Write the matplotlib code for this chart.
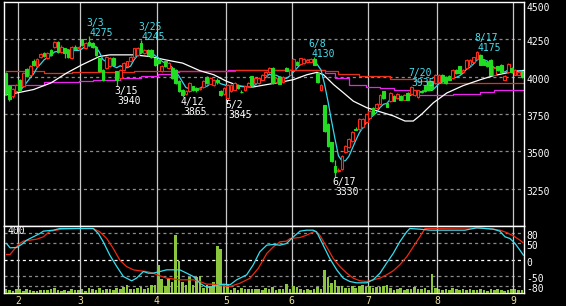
import matplotlib
matplotlib.use("Agg")
import matplotlib.pyplot as plt
import matplotlib.transforms as mtransforms
import numpy as np
import pandas as pd

plt.rcParams['font.family'] = ['DejaVu Sans Mono']
plt.rcParams['lines.scale_dashes'] = False

# ---------------- data ----------------
holidays = ['2022-02-11', '2022-02-23', '2022-03-21', '2022-04-29', '2022-05-03',
            '2022-05-04', '2022-05-05', '2022-07-18', '2022-08-11']
dates = pd.bdate_range('2022-01-26', '2022-09-05')
dates = dates[~dates.isin(pd.to_datetime(holidays))]

opens = [4024, 3936, 3869, 3903, 3980, 3936, 4051, 4013, 4108, 4073,
         4135, 4157, 4124, 4179, 4201, 4235, 4168, 4190, 4179, 4124,
         4201, 4190, 4250, 4190, 4235, 4224, 4201, 4124, 4046, 4057,
         4069, 4124, 4035, 3991, 4046, 4069, 4102, 4135, 4146, 4224,
         4157, 4179, 4179, 4124, 4113, 4035, 4102, 4057, 4057, 4046,
         3969, 3914, 3885, 3903, 3936, 3925, 3915, 3931, 3998, 3954,
         3947, 3980, 3903, 3881, 3858, 3903, 3914, 3947, 3900, 3909,
         3936, 4002, 3958, 3958, 3980, 4010, 4031, 4058, 3965, 3998,
         3962, 4058, 4013, 4046, 4100, 4086, 4090, 4095, 4100, 4117,
         4024, 3914, 3807, 3681, 3560, 3400, 3370, 3383, 3497, 3526,
         3571, 3650, 3648, 3660, 3697, 3725, 3792, 3790, 3814, 3902,
         3825, 3836, 3869, 3858, 3869, 3847, 3891, 3887, 3874, 3865,
         3905, 3940, 3969, 3969, 3958, 3962, 4013, 3998, 4007, 3991,
         4046, 4069, 4030, 4057, 4080, 4100, 4117, 4146, 4113, 4095,
         4113, 4013, 4069, 4080, 3980, 4029, 4057, 4013, 4013, 4035]
closes = [3892, 3850, 3918, 3947, 3914, 4024, 4002, 4073, 4080, 4117,
          4150, 4140, 4157, 4146, 4235, 4168, 4201, 4157, 4135, 4201,
          4184, 4201, 4212, 4224, 4212, 4201, 4146, 4035, 3980, 4135,
          4124, 4080, 3980, 4046, 4091, 4102, 4135, 4190, 4190, 4168,
          4179, 4146, 4135, 4080, 4091, 4069, 4069, 4091, 3991, 3958,
          3903, 3875, 3905, 3958, 3914, 3912, 3925, 3969, 3958, 3991,
          3976, 3962, 3876, 3925, 3947, 3947, 3958, 3925, 3896, 3936,
          3958, 3947, 3991, 3991, 4013, 4030, 4058, 3958, 3991, 3954,
          3998, 4040, 4046, 4117, 4080, 4124, 4117, 4113, 4117, 4080,
          3962, 3947, 3637, 3537, 3438, 3360, 3378, 3471, 3537, 3582,
          3630, 3645, 3719, 3715, 3747, 3770, 3748, 3820, 3880, 3858,
          3800, 3891, 3840, 3887, 3847, 3880, 3847, 3931, 3909, 3909,
          3895, 3903, 3914, 3918, 4013, 4013, 3969, 3958, 3980, 4046,
          4024, 4024, 4046, 4113, 4113, 4130, 4162, 4080, 4080, 4069,
          4013, 4057, 4046, 4029, 4007, 4084, 4029, 4046, 4030, 3998]
highs = [4030, 3945, 3925, 3952, 3985, 4030, 4060, 4080, 4115, 4122,
         4160, 4165, 4162, 4185, 4242, 4238, 4210, 4195, 4185, 4205,
         4210, 4206, 4255, 4230, 4275, 4230, 4205, 4128, 4050, 4140,
         4130, 4130, 4040, 4052, 4096, 4108, 4140, 4195, 4196, 4245,
         4185, 4185, 4184, 4128, 4118, 4075, 4106, 4096, 4062, 4050,
         3975, 3918, 3910, 3962, 3940, 3930, 3930, 3975, 4003, 3995,
         3982, 3990, 3908, 3930, 3952, 3952, 3962, 3952, 3910, 3940,
         3962, 4005, 3995, 3995, 4018, 4035, 4062, 4062, 3995, 4002,
         4002, 4062, 4052, 4122, 4105, 4128, 4122, 4118, 4122, 4130,
         4028, 3952, 3812, 3690, 3565, 3440, 3390, 3476, 3542, 3588,
         3635, 3660, 3724, 3720, 3752, 3775, 3795, 3825, 3885, 3905,
         3830, 3896, 3874, 3892, 3874, 3885, 3895, 3935, 3914, 3914,
         3910, 3945, 3974, 3974, 4018, 4018, 4018, 4003, 4012, 4051,
         4051, 4074, 4051, 4118, 4118, 4135, 4175, 4150, 4118, 4100,
         4118, 4062, 4074, 4085, 4012, 4090, 4062, 4051, 4035, 4040]
lows = [3880, 3840, 3860, 3898, 3905, 3930, 3995, 4005, 4070, 4068,
        4128, 4130, 4118, 4140, 4195, 4160, 4160, 4124, 4128, 4118,
        4178, 4185, 4205, 4185, 4205, 4195, 4140, 4030, 3972, 4050,
        4062, 4075, 3940, 3985, 4040, 4062, 4096, 4128, 4140, 4160,
        4150, 4140, 4128, 4072, 4085, 4030, 4062, 4050, 3985, 3950,
        3895, 3865, 3878, 3895, 3905, 3900, 3908, 3925, 3952, 3948,
        3940, 3950, 3870, 3875, 3845, 3898, 3908, 3918, 3890, 3904,
        3930, 3940, 3952, 3952, 3975, 4005, 4025, 3952, 3960, 3950,
        3955, 4035, 4008, 4040, 4075, 4080, 4085, 4090, 4095, 4075,
        3955, 3905, 3630, 3530, 3430, 3330, 3360, 3378, 3490, 3520,
        3565, 3640, 3642, 3655, 3690, 3720, 3742, 3785, 3808, 3852,
        3795, 3830, 3835, 3852, 3842, 3842, 3842, 3880, 3868, 3860,
        3890, 3898, 3908, 3912, 3952, 3957, 3962, 3952, 3975, 3985,
        4018, 4018, 4025, 4052, 4075, 4095, 4110, 4075, 4075, 4063,
        4008, 4008, 4040, 4024, 3975, 4024, 4024, 4008, 4008, 3992]
volume = [22, 16, 10, 22, 22, 14, 22, 16, 10, 14,
          16, 18, 16, 26, 30, 16, 10, 16, 14, 22,
          20, 16, 22, 14, 30, 26, 16, 30, 16, 22,
          22, 16, 30, 22, 36, 46, 22, 22, 30, 36,
          22, 30, 46, 46, 166, 82, 42, 86, 66, 346,
          190, 66, 46, 96, 46, 96, 100, 30, 46, 42,
          66, 280, 262, 56, 56, 16, 30, 16, 30, 22,
          26, 22, 26, 26, 16, 30, 26, 36, 16, 22,
          22, 52, 22, 40, 36, 22, 16, 22, 16, 22,
          36, 22, 136, 96, 62, 80, 42, 42, 30, 30,
          42, 30, 42, 50, 36, 42, 30, 36, 36, 42,
          50, 30, 16, 22, 30, 16, 26, 22, 36, 22,
          26, 30, 16, 116, 30, 26, 16, 22, 16, 30,
          22, 16, 22, 16, 22, 16, 16, 22, 16, 10,
          22, 16, 22, 16, 10, 16, 22, 22, 16, 16]

# 25-day (white), 13-week (red), 26-week (magenta) averages
ma_white_idx = [0, 4, 8, 13, 17.5, 22, 27, 30, 37, 41.5, 46, 51, 56, 60, 63.7, 67.6, 71.4,
                75.3, 79.1, 83, 86.9, 89.8, 91.7, 94.6, 97.5, 100.3, 104.2, 108, 111.9,
                115.2, 117.6, 120, 123.4, 127.3, 132, 137, 140.8, 146.6, 149.5]
ma_white = [3878, 3895, 3914, 3958, 4024, 4080, 4135, 4146, 4146, 4135, 4113, 4091, 4040,
            4013, 3969, 3936, 3931, 3947, 3962, 3980, 4013, 4029, 4013, 3947, 3891, 3836,
            3792, 3765, 3737, 3703, 3703, 3748, 3825, 3891, 3940, 3980, 4007, 4035, 4042]
ma_red_idx = [0, 11, 19, 37, 48, 66, 82, 92, 96, 102, 111, 118, 124, 149.6]
ma_red = [4040, 4025, 4030, 4035, 4040, 4046, 4042, 4035, 4020, 4007, 3987, 3973, 3958, 3958]
ma_mag_idx = [0, 11, 21, 25, 33, 39, 44, 48, 50, 64, 82, 92, 95, 99, 104, 108, 112, 119,
              129, 137, 141, 149.6]
ma_mag = [3947, 3962, 3969, 3980, 3991, 4007, 4020, 4029, 4035, 4046, 4042, 4024, 3991,
          3947, 3931, 3925, 3909, 3880, 3887, 3898, 3911, 3911]

# oscillator lines (lower panel)
osc_cyan_idx = [0.2, 1.2, 3.1, 4.5, 6, 7.9, 9.8, 10.8, 13.7, 15.6, 25.2, 26.7, 28.1, 30, 32,
                33.9, 36.3, 37.7, 39.7, 41.1, 42.5, 44.5, 46.4, 50.2, 52.2, 54.1, 56, 57.5,
                58.9, 60.8, 62.8, 64.7, 66.6, 69.5, 71.4, 73.3, 75.3, 77.2, 79.1, 81, 83,
                84.9, 86.8, 88.7, 89.7, 91.6, 93.5, 95.5, 97.4, 99.3, 101.2, 104.1, 106, 108,
                109.9, 111.8, 113.7, 115.7, 116.6, 119.5, 122.4, 132.5, 135.9, 140.7, 142.6,
                144.1, 145.5, 147, 148.4, 149.4]
osc_cyan = [48, 35, 36, 45, 58, 68, 78, 85, 88, 93, 93, 78, 53, 13, -21,
            -51, -64, -56, -36, -41, -41, -36, -31, -31, -41, -51, -71, -81,
            -84, -78, -74, -76, -61, -46, -16, 23, 43, 45, 43, 48, 68,
            85, 88, 88, 83, 43, 3, -31, -56, -66, -70, -70, -61, -41,
            -11, 18, 53, 83, 93, 91, 88, 88, 95, 91, 85,
            68, 63, 48, 28, 13]
osc_red_idx = [0.2, 1.2, 2.6, 4, 5, 6.9, 8.9, 10.8, 12.7, 14.6, 16.1, 20.4, 25.2, 27.1, 29.1,
               31, 32.9, 34.8, 36.8, 38.7, 40.6, 42.5, 44.5, 46.4, 50.2, 54.1, 56, 57.9,
               59.9, 61.8, 64.7, 67.6, 70.5, 72.9, 75.3, 77.2, 79.1, 81, 82, 84.9, 86.8,
               89.2, 90.6, 92.6, 94.5, 96.4, 98.4, 100.3, 102.2, 104.1, 106, 108, 109.9,
               111.8, 113.7, 115.7, 117.6, 119.5, 121, 136.8, 140.7, 142.6, 144.5, 146.5,
               148.4, 149.2]
osc_red = [15, 15, 33, 48, 55, 58, 61, 68, 85, 88, 91, 93, 93, 83, 63,
           33, -2, -21, -31, -34, -36, -41, -49, -56, -61, -61, -66, -74,
           -74, -78, -81, -71, -56, -26, 18, 38, 53, 55, 63, 66, 73,
           85, 73, 38, 3, -21, -41, -56, -64, -66, -61, -56, -46,
           -34, -16, 8, 38, 68, 93, 95, 91, 88, 81, 71,
           58, 51]

price_ticks = [3250, 3500, 3750, 4000, 4250, 4500]
osc_ticks = [80, 50, 0, -50, -80]

label_dates = ['3/3', '3/15', '3/25', '4/12', '5/2', '6/8', '6/17', '7/20', '8/17']
label_values = [4275, 3940, 4245, 3865, 3845, 4130, 3330, 3935, 4175]
label_kinds = ['high', 'low', 'high', 'low', 'low', 'high', 'low', 'high', 'high']

# ---------------- layout ----------------
W, H = 566, 306
fig = plt.figure(figsize=(W / 100, H / 100), dpi=100, facecolor='black')


def rect(x0, y0, x1, y1):
    return [x0 / W, 1 - y1 / H, (x1 - x0) / W, (y1 - y0) / H]


ax = fig.add_axes(rect(4, 2, 524, 226))
axb = fig.add_axes(rect(4, 226, 524, 293), sharex=ax)
axv = axb.twinx()
axo = axb.twinx()

n = len(closes)
idx = np.arange(n)
xlim = (-0.55, 149.57)

month_first = [i for i in range(1, n) if dates[i].month != dates[i - 1].month]
month_pos = [i - 0.5 for i in month_first]
month_lab = [str(dates[i].month) for i in month_first]

GRID_DASH = (0, (2.2, 2.2))
TXT = 7
PX = 0.72  # points per pixel
shift_down = mtransforms.ScaledTranslation(0, -2 / 100, fig.dpi_scale_trans)

for a in (ax, axb):
    a.set_facecolor('black')
    for s in a.spines.values():
        s.set_color('white')
        s.set_linewidth(1.0)
    a.set_xlim(*xlim)
    a.set_xticks(month_pos)
    a.xaxis.grid(True, color='#c8c8c8', lw=0.9, ls='-')
    a.set_axisbelow(True)

# ---------------- main panel ----------------
ax.set_ylim(3000, 4500)
ax.set_yticks(price_ticks)
ax.set_yticklabels([str(t) for t in price_ticks])
for t in price_ticks[:-1]:
    ax.axhline(t, color='#8a8a8a', lw=0.9, ls=GRID_DASH, zorder=0.5)
ax.tick_params(axis='x', length=0, labelbottom=False)

o = np.array(opens, float)
c = np.array(closes, float)
hi = np.array(highs, float)
lo = np.array(lows, float)
up = c >= o
RED = '#ff2a1a'
GREEN = '#22dd22'
cols = np.where(up, RED, GREEN)

# moving averages (beneath candles)
ax.plot(ma_mag_idx, ma_mag, color='#ee22ee', lw=0.9, drawstyle='steps-post', zorder=1)
ax.plot(ma_red_idx, ma_red, color='#e83018', lw=0.9, drawstyle='steps-post', zorder=1.1)
ax.plot(ma_white_idx, ma_white, color='white', lw=0.9, zorder=1.2)
ma5 = pd.Series(closes).rolling(5).mean()
ax.plot(idx, ma5, color='#33d8ee', lw=0.9, zorder=1.3)

ax.vlines(idx, lo, hi, colors=cols, lw=0.9, zorder=2)
body_bot = np.minimum(o, c)
body_h = np.maximum(np.abs(c - o), 4)
ax.bar(idx, body_h, bottom=body_bot, width=0.78,
       color=np.where(up, 'black', GREEN), edgecolor=cols, linewidth=0.8, zorder=3)

# high / low annotations
for d, v, kind in zip(label_dates, label_values, label_kinds):
    m, dd = d.split('/')
    xi = int(np.where((dates.month == int(m)) & (dates.day == int(dd)))[0][0])
    if kind == 'high':
        col = '#44e0f0'
        ax.annotate(d, (xi, v), xytext=(-2.5 * PX, 10 * PX), textcoords='offset points',
                    ha='left', va='baseline', color=col, fontsize=TXT, zorder=6)
        ax.annotate(str(v), (xi, v), xytext=(0.5 * PX, 0 * PX), textcoords='offset points',
                    ha='left', va='baseline', color=col, fontsize=TXT, zorder=6)
    else:
        col = 'white'
        ax.annotate(d, (xi, v), xytext=(-2.5 * PX, -8 * PX), textcoords='offset points',
                    ha='left', va='baseline', color=col, fontsize=TXT, zorder=6)
        ax.annotate(str(v), (xi, v), xytext=(0.5 * PX, -18 * PX), textcoords='offset points',
                    ha='left', va='baseline', color=col, fontsize=TXT, zorder=6)

# ---------------- lower panel ----------------
axb.set_ylim(-100.5, 100.5)
axb.set_yticks(osc_ticks)
axb.set_yticklabels([str(t) for t in osc_ticks])
for t in osc_ticks:
    axb.axhline(t, color='white' if t == 0 else '#8a8a8a', lw=0.9, ls=GRID_DASH, zorder=0.5)
axb.set_xticklabels(month_lab)
axb.tick_params(axis='x', length=0, pad=2, labelcolor='#eee29a', labelsize=TXT)

axv.set_ylim(0, 400)
axv.bar(idx, volume, width=0.75, color='#8cc63f', linewidth=0, zorder=2)
axo.set_ylim(-100.5, 100.5)
axo.plot(osc_red_idx, osc_red, color='#ee2a10', lw=0.9)
axo.plot(osc_cyan_idx, osc_cyan, color='#33e0f0', lw=0.9)
for a in (axv, axo):
    a.set_xlim(*xlim)
    a.set_yticks([])
    a.tick_params(left=False, right=False, labelleft=False, labelright=False)
    for s in a.spines.values():
        s.set_visible(False)

# right-side price / oscillator labels
for a in (ax, axb):
    a.yaxis.set_label_position('right')
    a.tick_params(axis='y', which='both', left=False, labelleft=False, right=True,
                  labelright=True, length=0, pad=2, labelcolor='white', labelsize=TXT)
    for lab in a.get_yticklabels():
        lab.set_transform(lab.get_transform() + shift_down)
top_lab = ax.get_yticklabels()[-1]
top_lab.set_verticalalignment('top')
top_lab.set_transform(top_lab.get_transform() + mtransforms.ScaledTranslation(0, 1 / 100, fig.dpi_scale_trans))

fig.text(8 / W, 1 - 231 / H, '400', color='white', fontsize=TXT, ha='left', va='center')

fig.savefig('out.png', dpi=100, facecolor='black')
